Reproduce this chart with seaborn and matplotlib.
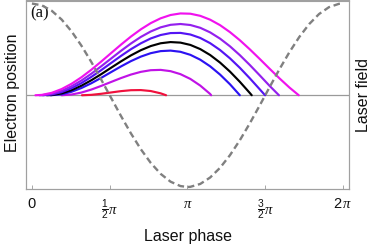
import matplotlib
matplotlib.use("Agg")
import matplotlib.pyplot as plt
import numpy as np
import pandas as pd
import seaborn as sns

# ---------------- data ----------------
phase_magenta = [0.07, 0.2, 0.4, 0.6, 0.8, 1.0, 1.2, 1.4, 1.6, 1.8, 2.0, 2.2, 2.4, 2.6, 2.8,
                 3.0, 3.2, 3.4, 3.6, 3.8, 4.0, 4.2, 4.4, 4.6, 4.8, 5.0, 5.2, 5.39]
pos_magenta = [0.0, 0.008, 0.053, 0.135, 0.250, 0.392, 0.556, 0.735, 0.920, 1.104, 1.279, 1.437,
               1.572, 1.677, 1.749, 1.783, 1.777, 1.731, 1.647, 1.528, 1.376, 1.199, 1.002,
               0.793, 0.579, 0.369, 0.170, 0.0]

phase_purple = [0.15, 0.2, 0.4, 0.6, 0.8, 1.0, 1.2, 1.4, 1.6, 1.8, 2.0, 2.2, 2.4, 2.6, 2.8,
                3.0, 3.2, 3.4, 3.6, 3.8, 4.0, 4.2, 4.4, 4.6, 4.8, 4.99]
pos_purple = [0.0, 0.001, 0.030, 0.096, 0.195, 0.321, 0.469, 0.632, 0.801, 0.969, 1.128, 1.271,
              1.390, 1.480, 1.535, 1.553, 1.531, 1.470, 1.370, 1.234, 1.067, 0.874, 0.661,
              0.436, 0.206, 0.0]

phase_indigo = [0.22, 0.4, 0.6, 0.8, 1.0, 1.2, 1.4, 1.6, 1.8, 2.0, 2.2, 2.4, 2.6, 2.8,
                3.0, 3.2, 3.4, 3.6, 3.8, 4.0, 4.2, 4.4, 4.6, 4.71]
pos_indigo = [0.0, 0.016, 0.068, 0.153, 0.265, 0.400, 0.548, 0.704, 0.858, 1.004, 1.132, 1.238,
              1.313, 1.355, 1.359, 1.324, 1.249, 1.135, 0.986, 0.805, 0.598, 0.371, 0.132, 0.0]

phase_black = [0.30, 0.4, 0.6, 0.8, 1.0, 1.2, 1.4, 1.6, 1.8, 2.0, 2.2, 2.4, 2.6, 2.8,
               3.0, 3.2, 3.4, 3.6, 3.8, 4.0, 4.2, 4.4, 4.44]
pos_black = [0.0, 0.005, 0.041, 0.111, 0.208, 0.327, 0.460, 0.600, 0.739, 0.869, 0.982, 1.072,
             1.133, 1.159, 1.147, 1.097, 1.006, 0.877, 0.712, 0.516, 0.293, 0.051, 0.0]

phase_blue = [0.38, 0.6, 0.8, 1.0, 1.2, 1.4, 1.6, 1.8, 2.0, 2.2, 2.4, 2.6, 2.8,
              3.0, 3.2, 3.4, 3.6, 3.8, 4.0, 4.20]
pos_blue = [0.0, 0.022, 0.076, 0.158, 0.262, 0.380, 0.505, 0.629, 0.744, 0.842, 0.917, 0.962,
            0.973, 0.947, 0.881, 0.775, 0.631, 0.451, 0.240, 0.0]

phase_violet = [0.60, 0.8, 1.0, 1.2, 1.4, 1.6, 1.8, 2.0, 2.2, 2.4, 2.6, 2.8, 3.0, 3.2, 3.4, 3.6, 3.62]
pos_violet = [0.0, 0.016, 0.059, 0.124, 0.204, 0.290, 0.375, 0.451, 0.510, 0.546, 0.553, 0.525,
              0.460, 0.356, 0.211, 0.028, 0.0]

phase_red = [1.01, 1.2, 1.4, 1.6, 1.8, 2.0, 2.2, 2.4, 2.6, 2.71]
pos_red = [0.0, 0.009, 0.032, 0.061, 0.090, 0.110, 0.113, 0.092, 0.042, 0.0]

field_phase = [0.0, 0.2, 0.4, 0.6, 0.8, 1.0, 1.2, 1.4, 1.6, 1.8, 2.0, 2.2, 2.4, 2.6, 2.8, 3.0,
               3.1416, 3.2, 3.4, 3.6, 3.8, 4.0, 4.2, 4.4, 4.6, 4.8, 5.0, 5.2, 5.4, 5.6, 5.8, 6.0,
               6.2, 6.2832]
field_value = [1.0, 0.9801, 0.9211, 0.8253, 0.6967, 0.5403, 0.3624, 0.1700, -0.0292, -0.2272,
               -0.4161, -0.5885, -0.7374, -0.8569, -0.9422, -0.9900, -1.0, -0.9983, -0.9668,
               -0.8968, -0.7910, -0.6536, -0.4903, -0.3073, -0.1122, 0.0875, 0.2837, 0.4685,
               0.6347, 0.7756, 0.8855, 0.9602, 0.9965, 1.0]

tick_positions = [0, np.pi / 2, np.pi, 3 * np.pi / 2, 2 * np.pi]
tick_labels = ["0", r"$\frac{1}{2}\pi$", r"$\pi$", r"$\frac{3}{2}\pi$", r"$2\,\pi$"]

curves = {
    "red": (phase_red, pos_red),
    "violet": (phase_violet, pos_violet),
    "blue": (phase_blue, pos_blue),
    "black": (phase_black, pos_black),
    "indigo": (phase_indigo, pos_indigo),
    "purple": (phase_purple, pos_purple),
    "magenta": (phase_magenta, pos_magenta),
}
palette = {
    "red": "#f0103c",
    "violet": "#c012e6",
    "blue": "#2c12f2",
    "black": "#000000",
    "indigo": "#5414f4",
    "purple": "#9420ee",
    "magenta": "#f012ee",
}

rows = []
for name, (ph, ps) in curves.items():
    for p, v in zip(ph, ps):
        rows.append({"phase": p, "position": v, "traj": name})
traj_df = pd.DataFrame(rows)
field_df = pd.DataFrame({"phase": field_phase, "field": field_value})

# ---------------- style ----------------
sns.set_style("white")
plt.rcParams["font.family"] = ["Liberation Sans", "DejaVu Sans"]
plt.rcParams["mathtext.fontset"] = "custom"
plt.rcParams["mathtext.rm"] = "Liberation Sans"
plt.rcParams["mathtext.it"] = "Liberation Serif:italic"
plt.rcParams["mathtext.sf"] = "Liberation Sans"

W, H = 374, 247
fig = plt.figure(figsize=(W / 100, H / 100), dpi=100)
ax = fig.add_axes([26 / W, 58 / H, 323 / W, 188.5 / H])
ax.set_facecolor("white")

ax.axhline(0, color="#9a9a9a", lw=0.9, zorder=1)

sns.lineplot(data=traj_df, x="phase", y="position", hue="traj", palette=palette,
             hue_order=list(curves.keys()), sort=False, estimator=None, legend=False,
             linewidth=1.55, ax=ax, zorder=3)

ax2 = ax.twinx()
sns.lineplot(data=field_df, x="phase", y="field", color="#808080", linewidth=1.7,
             linestyle=(0, (2.8, 1.6)), sort=False, estimator=None, ax=ax2)

ax.set_xlim(-0.12, 6.405)
ax.set_ylim(-2.043, 2.065)
ax2.set_ylim(-1.022, 1.033)

for a in (ax, ax2):
    a.set_yticks([])
    a.set_ylabel("")
    a.set_xlabel("")
    for sp in a.spines.values():
        sp.set_color("#a0a0a0")
        sp.set_linewidth(0.8)

ax.set_xticks(tick_positions)
ax.set_xticklabels(tick_labels)
ax.tick_params(axis="x", direction="in", length=3, width=0.6, color="#999999",
               pad=6, labelsize=10.5, labelcolor="#111111", bottom=True)

ax.text(0.012, 0.975, "(a)", transform=ax.transAxes, ha="left", va="top",
        fontsize=12, fontfamily="Liberation Serif", color="#111111")

fig.text(12 / W, 1 - 93 / H, "Electron position", rotation=90, ha="center", va="center",
         fontsize=11.5, color="#111111")
fig.text(363 / W, 1 - 95 / H, "Laser field", rotation=90, ha="center", va="center",
         fontsize=11.5, color="#111111")
fig.text(188 / W, 1 - 236 / H, "Laser phase", ha="center", va="center",
         fontsize=11.5, color="#111111")

fig.savefig("out.png", dpi=100)
